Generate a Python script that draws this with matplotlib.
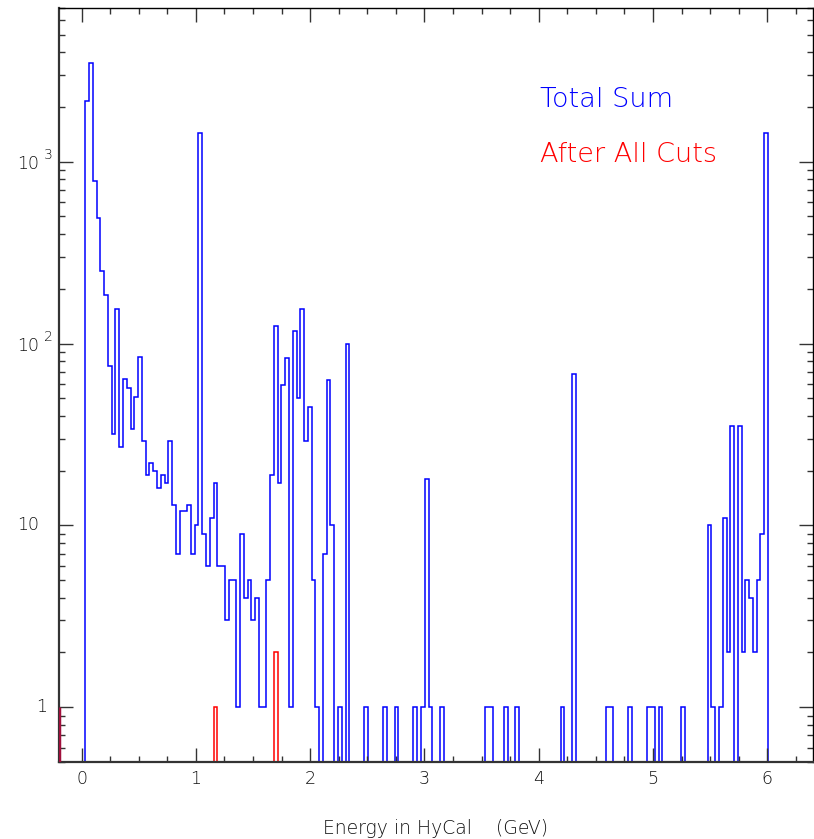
import numpy as np
import matplotlib
matplotlib.use("Agg")
import matplotlib.pyplot as plt
from matplotlib.ticker import FixedLocator, NullFormatter, LogLocator

plt.rcParams["font.family"] = ["DejaVu Sans"]
plt.rcParams["font.weight"] = "light"

# 200 bins of 0.033 GeV starting at 0
bin_width = 0.033
n_bins = 200

# blue: total sum, counts per bin (bin index -> count)
total_counts = {
    1: 2150, 2: 3500, 3: 785, 4: 490, 5: 252, 6: 186, 7: 75, 8: 32, 9: 155,
    10: 27, 11: 64, 12: 57, 13: 34, 14: 51, 15: 84, 16: 29, 17: 19, 18: 22,
    19: 20, 20: 16, 21: 19, 22: 17, 23: 29, 24: 13, 25: 7, 26: 12, 27: 12,
    28: 13, 29: 7, 30: 10, 31: 1430, 32: 9, 33: 6, 34: 11, 35: 17, 36: 6,
    37: 6, 38: 3, 39: 5, 40: 5, 41: 1, 42: 9, 43: 4, 44: 5, 45: 3, 46: 4,
    47: 1, 48: 1, 49: 5, 50: 19, 51: 125, 52: 17, 53: 59, 54: 83, 55: 1,
    56: 117, 57: 50, 58: 155, 59: 29, 60: 45, 61: 5, 62: 1, 64: 7, 65: 63,
    66: 10, 68: 1, 70: 100, 75: 1, 80: 1, 83: 1, 88: 1, 90: 1, 91: 18,
    92: 1, 95: 1, 107: 1, 108: 1, 112: 1, 115: 1, 127: 1, 130: 68, 139: 1,
    140: 1, 145: 1, 150: 1, 151: 1, 153: 1, 159: 1, 166: 10, 167: 1,
    169: 1, 170: 11, 171: 2, 172: 35, 174: 35, 175: 2, 176: 5, 177: 4,
    178: 2, 179: 5, 180: 9, 181: 1430,
}
# red: after all cuts
cut_counts = {35: 1, 51: 2}

edges = np.arange(n_bins + 1) * bin_width
total = np.zeros(n_bins)
for k, v in total_counts.items():
    total[k] = v
after = np.zeros(n_bins)
for k, v in cut_counts.items():
    after[k] = v

blue = "#0000ff"
red = "#ff0000"
grey = "#333333"
ink = "#111111"

fig = plt.figure(figsize=(8.14, 8.39), dpi=100)
ax = fig.add_axes([0.0721, 0.0918, 0.9267, 0.8987])
ax.set_yscale("log")

# empty bins go below the axis so the outline drops to the bottom
floor = 1e-2
ax.stairs(np.where(total > 0, total, floor), edges, baseline=floor,
          color=blue, lw=1.1)
ax.stairs(np.where(after > 0, after, floor), edges, baseline=floor,
          color=red, lw=1.1)
ax.vlines(-0.2, 0.5, 1, color="#a0103c", lw=2.5, zorder=5)

ax.set_xlim(-0.2, 6.4)
ax.set_ylim(0.5, 7000)

for side in ["left", "bottom"]:
    ax.spines[side].set_linewidth(1.6)
    ax.spines[side].set_color(grey)
for side in ["top", "right"]:
    ax.spines[side].set_linewidth(1.0)
    ax.spines[side].set_color("black")

ax.xaxis.set_major_locator(FixedLocator(range(7)))
ax.xaxis.set_minor_locator(FixedLocator(np.arange(-0.0, 6.5, 0.25)))
ax.yaxis.set_major_locator(FixedLocator([1, 10, 100, 1000]))
ax.yaxis.set_minor_locator(LogLocator(base=10, subs=np.arange(2, 10)))
ax.yaxis.set_major_formatter(NullFormatter())
ax.yaxis.set_minor_formatter(NullFormatter())
ax.tick_params(which="both", direction="in", top=True, right=True,
               color=grey)
ax.tick_params(which="major", length=10, width=1.0)
ax.tick_params(which="minor", length=4.5, width=1.0)
ax.tick_params(axis="x", which="major", pad=6, labelsize=12.5,
               labelcolor=ink)
ax.set_xticklabels([str(i) for i in range(7)])

txt = dict(color=ink, fontsize=12.5, va="center")
ytf = ax.get_yaxis_transform()
ax.text(-0.022, 1, "1", ha="center", transform=ytf, **txt)
ax.text(-0.055, 10, "10", ha="left", transform=ytf, **txt)
for val, sup in [(100, "2"), (1000, "3")]:
    ax.annotate("10", xy=(-0.055, val), xycoords=ytf, xytext=(0, -1.5),
                textcoords="offset points", ha="left", **txt)
    ax.annotate(sup, xy=(-0.0195, val), xycoords=ytf, xytext=(0, 5),
                textcoords="offset points", ha="left", color=ink,
                fontsize=10, va="center")

ax.text(0.638, 0.879, "Total Sum", color=blue, fontsize=19.5,
        transform=ax.transAxes, va="center", ha="left")
ax.text(0.638, 0.806, "After All Cuts", color=red, fontsize=19.5,
        transform=ax.transAxes, va="center", ha="left")

fig.text(0.5356, 0.013, "Energy in HyCal    (GeV)", color=ink,
         fontsize=13.5, ha="center", va="center")

fig.savefig("out.png", dpi=100)
